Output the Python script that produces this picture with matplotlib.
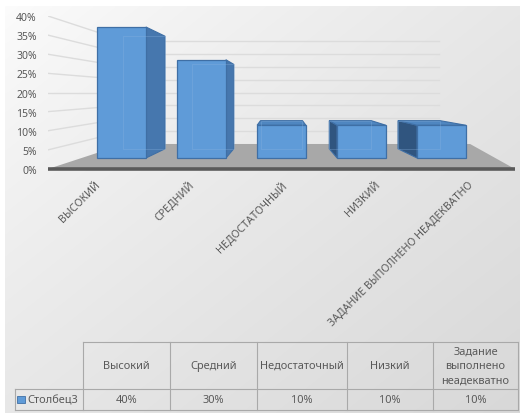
import numpy as np
import matplotlib.pyplot as plt
from matplotlib.patches import Polygon, Rectangle

# data
categories = ['Высокий', 'Средний', 'Недостаточный', 'Низкий', 'Задание выполнено неадекватно']
header_labels = ['Высокий', 'Средний', 'Недостаточный', 'Низкий', 'Задание\nвыполнено\nнеадекватно']
values = [40, 30, 10, 10, 10]
series_name = 'Столбец3'
y_ticks = [0, 5, 10, 15, 20, 25, 30, 35, 40]

plt.rcParams['font.family'] = ['Noto Sans', 'DejaVu Sans']
TXT = '#595959'
W, H = 522, 414

fig = plt.figure(figsize=(W / 100, H / 100), dpi=100)

# chart area gradient background (pixel coords)
bg = fig.add_axes([0, 0, 1, 1], zorder=-5)
bg.set_xlim(0, W)
bg.set_ylim(H, 0)
bg.axis('off')
xx, yy = np.meshgrid(np.linspace(0, 1, 200), np.linspace(0, 1, 200))
t = ((xx + yy) / 2) ** 0.8
shade = (252 - 36 * t) / 255
bg.imshow(np.dstack([shade] * 3), extent=(5, 520, H, 7), aspect='auto', interpolation='bilinear')

# plot area, front plane of the 3d box
ax = fig.add_axes([48 / W, (H - 170) / H, (515 - 48) / W, (170 - 17) / H])
ax.set_xlim(-0.5, 4.5)
ax.set_ylim(0, 40)
ax.patch.set_visible(False)
for sp in ax.spines.values():
    sp.set_visible(False)

# fake perspective: shrink toward a vanishing point with depth
vp = (2.0, 20.0)
S_WALL, S_FRONT, S_BACK = 0.673, 0.856, 0.736
half = 0.305


def proj(x, y, s):
    return (vp[0] + s * (x - vp[0]), vp[1] + s * (y - vp[1]))


# floor (right corner sits a bit further out, like the excel render)
floor = [(-0.5, 0), (4.5, 0), proj(5.0, 0, S_WALL), proj(-0.5, 0, S_WALL)]
ax.add_patch(Polygon(floor, closed=True, fc='#A8A8A8', ec='none', zorder=1, clip_on=False))

# gridlines: back wall + left wall
for v in y_ticks[1:]:
    a = proj(-0.5, v, S_WALL)
    b = proj(4.5, v, S_WALL)
    ax.plot([a[0], b[0]], [a[1], b[1]], color='#DCDCDC', lw=1, zorder=0.5)
    ax.plot([-0.5, a[0]], [v, a[1]], color='#DCDCDC', lw=1, zorder=0.5)

ax.plot([-0.5, 4.5], [0, 0], color='#5A5A5A', lw=2.6, zorder=2, clip_on=False,
        solid_capstyle='butt')

edge = '#3F6FA5'
for i, v in enumerate(values):
    fl, fr = i - half, i + half
    F = [proj(fl, 0, S_FRONT), proj(fr, 0, S_FRONT), proj(fr, v, S_FRONT), proj(fl, v, S_FRONT)]
    B = [proj(fl, 0, S_BACK), proj(fr, 0, S_BACK), proj(fr, v, S_BACK), proj(fl, v, S_BACK)]
    if i < vp[0]:
        side, sc = [F[1], B[1], B[2], F[2]], '#4677AE'
    elif i > vp[0]:
        side, sc = [F[0], B[0], B[3], F[3]], '#30557F'
    else:
        side = None
    if side:
        ax.add_patch(Polygon(side, closed=True, fc=sc, ec=edge, lw=0.8, zorder=3, clip_on=False))
    if v < vp[1]:
        top = [F[3], F[2], B[2], B[3]]
        ax.add_patch(Polygon(top, closed=True, fc='#4F86C0', ec=edge, lw=0.8, zorder=3, clip_on=False))
    ax.add_patch(Polygon(F, closed=True, fc='#5F9BD8', ec=edge, lw=0.9, zorder=4, clip_on=False))
    # back edges faintly showing through the front face
    ax.add_patch(Polygon(B, closed=True, fill=False, ec='#8DB6E2', lw=0.6, alpha=0.35, zorder=5,
                         clip_on=False))

ax.set_yticks(y_ticks)
ax.set_yticklabels([f'{v}%' for v in y_ticks])
ax.tick_params(axis='y', length=0, pad=8, labelsize=7.5, labelcolor=TXT)
ax.set_xticks(range(len(categories)))
ax.set_xticklabels([c.upper() for c in categories], rotation=45, ha='right', va='top',
                   rotation_mode='anchor')
ax.tick_params(axis='x', length=0, pad=7, labelsize=7.6, labelcolor=TXT)

# data table under the chart (pixel coords)
tab = fig.add_axes([0, 0, 1, 1])
tab.set_xlim(0, W)
tab.set_ylim(H, 0)
tab.axis('off')
col_edges = [83, 170, 257, 347, 433, 518]
y_head, y_mid, y_bot = 343, 390, 411
lc = '#A9A9A9'
tab.plot([col_edges[0], col_edges[-1]], [y_head, y_head], color=lc, lw=0.8)
tab.plot([15, col_edges[-1]], [y_mid, y_mid], color=lc, lw=0.8)
tab.plot([15, col_edges[-1]], [y_bot, y_bot], color=lc, lw=0.8)
for x in col_edges:
    tab.plot([x, x], [y_head, y_bot], color=lc, lw=0.8)
tab.plot([15, 15], [y_mid, y_bot], color=lc, lw=0.8)

for j, lab in enumerate(header_labels):
    cx = (col_edges[j] + col_edges[j + 1]) / 2
    tab.text(cx, (y_head + y_mid) / 2, lab, ha='center', va='center', fontsize=7.9,
             color=TXT, linespacing=1.45)
    tab.text(cx, (y_mid + y_bot) / 2 + 0.5, f'{values[j]}%', ha='center', va='center',
             fontsize=7.9, color=TXT)

tab.add_patch(Rectangle((17, 397), 8, 7, fc='#5F9BD8', ec=edge, lw=0.6))
tab.text(27, (y_mid + y_bot) / 2 + 0.5, series_name, ha='left', va='center', fontsize=7.9,
         color=TXT)

fig.savefig('out.png', dpi=100)
